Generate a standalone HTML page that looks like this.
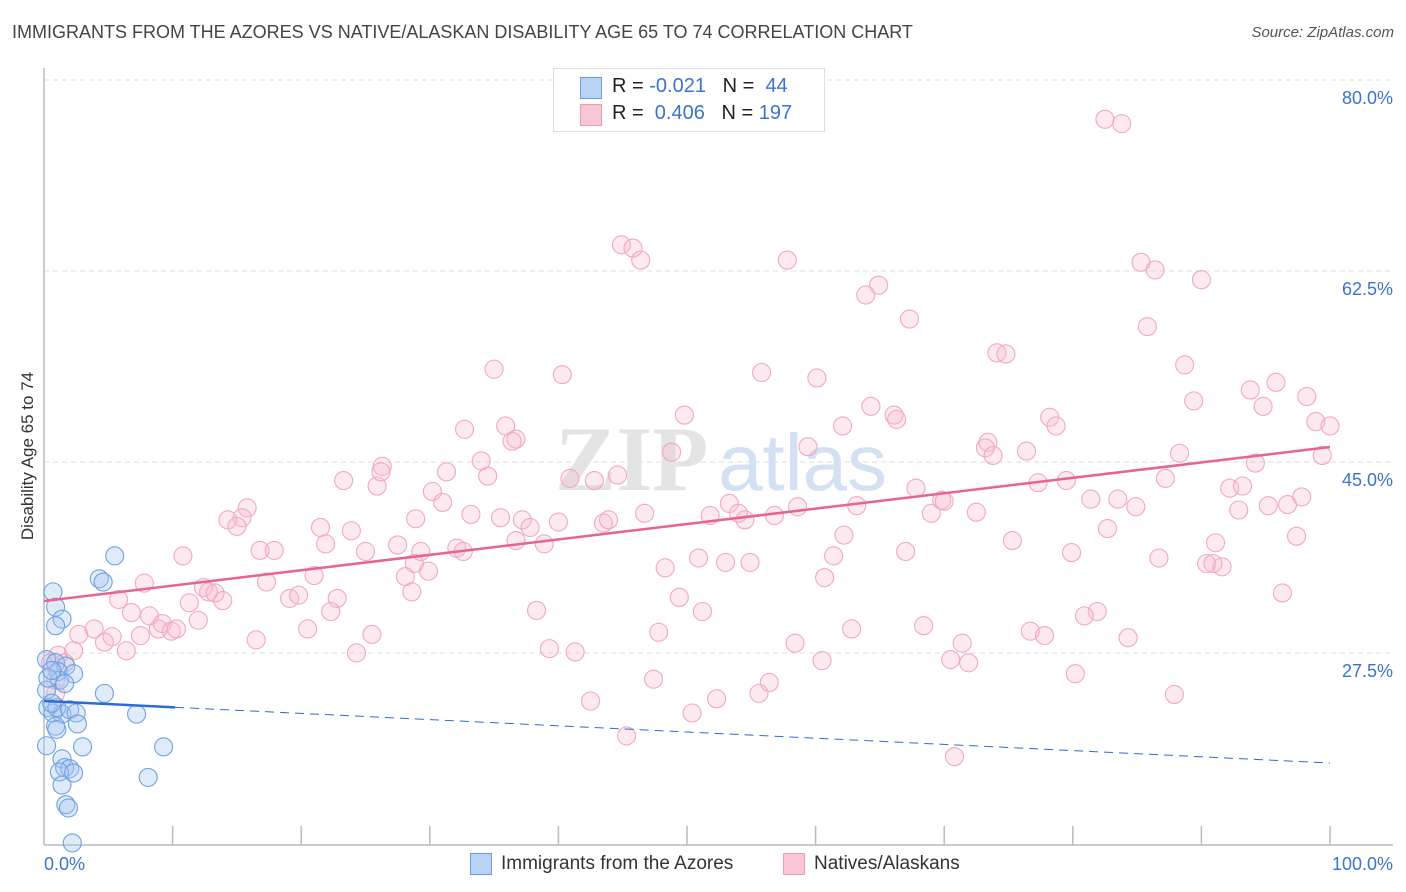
<!DOCTYPE html>
<html><head><meta charset="utf-8">
<style>
body{margin:0;background:#fff;font-family:"Liberation Sans",sans-serif;}
#wrap{position:relative;width:1406px;height:892px;overflow:hidden;}
.t{position:absolute;white-space:nowrap;}
</style></head>
<body>
<div id="wrap">
<div class="t" style="left:12px;top:22px;font-size:18px;color:#444;">IMMIGRANTS FROM THE AZORES VS NATIVE/ALASKAN DISABILITY AGE 65 TO 74 CORRELATION CHART</div>
<div class="t" style="right:12px;top:24px;font-size:15px;color:#555;font-style:italic;">Source: ZipAtlas.com</div>
<svg id="chart" width="1406" height="892" style="position:absolute;left:0;top:0"></svg>
</div>
<script>
const yTicks=[80,62.5,45,27.5];
const yTickLabels=["80.0%","62.5%","45.0%","27.5%"];
const xTickLabels=["0.0%","100.0%"];
const pinkX=[82.5,83.8,44.9,45.8,46.4,57.8,85.3,86.4,90.0,64.9,63.9,67.3,85.8,74.1,74.8,35.0,40.3,55.8,60.1,88.7,93.8,95.8,98.2,89.4,94.8,64.3,49.8,66.1,66.3,78.2,78.7,35.9,32.7,36.7,36.4,62.1,59.4,73.4,73.2,73.8,76.4,98.9,100,88.3,94.2,99.4,48.8,26.3,31.3,34.0,34.5,23.3,25.9,26.2,44.6,42.8,40.9,30.2,31.0,67.8,79.5,77.3,87.2,92.2,93.2,81.4,83.5,84.9,96.7,97.8,92.9,95.2,15.8,15.4,14.3,15.0,21.5,23.9,28.9,33.2,35.5,37.2,37.8,40.0,43.5,43.9,46.7,51.8,53.3,54.0,54.5,56.8,58.6,63.2,69.0,69.8,70.0,72.5,82.7,10.8,16.8,17.9,21.9,25.0,27.5,29.3,32.1,32.6,36.7,38.9,28.8,28.1,29.9,21.0,17.3,50.9,53.0,54.9,62.2,61.4,67.0,75.3,79.9,86.7,90.4,90.9,91.6,91.1,97.4,48.3,60.7,7.8,5.8,6.8,8.2,11.3,12.4,12.8,13.3,13.9,19.1,19.8,22.8,22.3,28.6,38.3,49.4,51.2,81.9,80.9,96.3,2.7,3.9,4.7,5.3,7.5,8.9,9.2,9.9,10.3,12.0,6.4,16.5,20.5,25.5,47.8,62.8,68.4,76.7,77.8,84.3,58.4,71.4,1.1,2.3,1.6,24.3,39.3,41.3,70.5,71.9,60.5,80.2,47.4,56.4,55.6,52.3,42.5,50.4,87.9,45.3,70.8,0.9,0.5,0.9];
const pinkY=[76.4,76.0,64.9,64.6,63.5,63.5,63.3,62.6,61.7,61.2,60.3,58.1,57.4,55.0,54.9,53.5,53.0,53.2,52.7,53.9,51.6,52.3,51.0,50.6,50.1,50.1,49.3,49.3,48.9,49.1,48.3,48.3,48.0,47.1,46.9,48.3,46.4,46.8,46.3,45.6,46.0,48.7,48.3,45.8,44.9,45.6,45.9,44.6,44.1,45.1,43.7,43.3,42.8,44.1,43.8,43.3,43.5,42.3,41.3,42.6,43.3,43.1,43.5,42.6,42.8,41.6,41.6,40.9,41.1,41.8,40.6,41.0,40.8,39.9,39.7,39.1,39.0,38.7,39.8,40.2,39.9,39.7,39.0,39.5,39.4,39.7,40.3,40.1,41.2,40.3,39.7,40.1,40.9,41.0,40.3,41.5,41.4,40.4,38.9,36.4,36.9,36.9,37.5,36.8,37.4,36.8,37.1,36.8,37.8,37.5,35.7,34.5,35.0,34.6,34.0,36.2,35.8,35.8,38.3,36.4,36.8,37.8,36.7,36.2,35.7,35.7,35.4,37.6,38.2,35.3,34.4,33.9,32.4,31.2,30.9,32.1,33.5,33.1,33.0,32.3,32.5,32.8,32.5,31.3,33.1,31.4,32.6,31.3,31.3,30.9,33.0,29.2,29.7,28.5,29.0,29.1,29.7,30.2,29.5,29.7,30.5,27.7,28.7,29.7,29.2,29.4,29.7,30.0,29.5,29.1,28.9,28.4,28.4,27.3,27.7,26.6,27.5,27.9,27.6,26.9,26.6,26.8,25.6,25.1,24.8,23.8,23.3,23.1,22.0,23.7,19.9,18.0,25.0,26.6,23.8];
const blueX=[5.5,0.7,0.9,1.4,0.9,4.3,4.6,0.2,0.9,1.7,1.1,2.3,1.2,1.6,0.2,4.7,0.3,0.7,1.4,1.0,2.0,2.5,2.6,0.9,1.0,7.2,0.2,3.0,9.3,1.4,1.6,2.0,1.2,2.3,8.1,1.4,1.7,1.9,2.2,0.6,0.3,0.6];
const blueY=[36.4,33.1,31.7,30.6,30.0,34.3,34.0,26.9,26.6,26.3,25.8,25.6,25.0,24.7,24.1,23.8,22.5,22.0,21.9,22.5,22.3,22.0,21.0,20.8,20.5,21.9,19.0,18.9,18.9,17.8,17.0,16.9,16.6,16.5,16.1,15.4,13.6,13.3,10.1,22.9,25.2,25.9];
const pinkTrend=[32.26,46.37];
const blueTrend=[23.1,17.42];
const blueSolidEnd=10.2;

const NS="http://www.w3.org/2000/svg";
const svg=document.getElementById('chart');
const X0=44,X1=1330;
const xs=v=>X0+(X1-X0)*v/100;
const ys=v=>80+(80-v)*10.914;
function mk(tag,attrs,parent){const e=document.createElementNS(NS,tag);for(const k in attrs)e.setAttribute(k,attrs[k]);(parent||svg).appendChild(e);return e;}

yTicks.forEach((t,i)=>{
  const g=mk('line',{x1:X0,x2:1393,y1:ys(t),y2:ys(t),stroke:'#ddd','stroke-dasharray':'5,4','stroke-width':1});
  
  
  const tx=mk('text',{x:1393,y:ys(t)+24,'text-anchor':'end','font-size':18,fill:'#3b73d1','font-family':'Liberation Sans, sans-serif'});
  tx.textContent=yTickLabels[i];
  
  
});
const ax=mk('line',{x1:X0,x2:1393,y1:845,y2:845,stroke:'#bbb','stroke-width':1.5});


const ay=mk('line',{x1:X0,x2:X0,y1:68,y2:845,stroke:'#bbb','stroke-width':1.5});


for(let i=1;i<=10;i++){
  const tk=mk('line',{x1:xs(i*10),x2:xs(i*10),y1:826,y2:845,stroke:'#bbb','stroke-width':1.5});
  
  
}
const xl0=mk('text',{x:44,y:870,'font-size':18,fill:'#3b73d1','font-family':'Liberation Sans, sans-serif'});
xl0.textContent=xTickLabels[0];


const xl1=mk('text',{x:1393,y:870,'text-anchor':'end','font-size':18,fill:'#3b73d1','font-family':'Liberation Sans, sans-serif'});
xl1.textContent=xTickLabels[1];


const yt=mk('text',{x:33,y:456,'text-anchor':'middle','font-size':17,fill:'#333',transform:'rotate(-90 33 456)','font-family':'Liberation Sans, sans-serif'});
yt.textContent='Disability Age 65 to 74';


const wm=mk('text',{x:555,y:490,'font-size':92,fill:'#e4e4e4','font-family':'Liberation Serif, serif','font-weight':'bold'});
wm.textContent='ZIP';


const wm2=mk('text',{x:718,y:490,'font-size':80,fill:'#d3e1f3','font-family':'Liberation Sans, sans-serif'});
wm2.textContent='atlas';


pinkX.forEach((x,i)=>{
  const c=mk('circle',{cx:xs(x),cy:ys(pinkY[i]),r:9,fill:'rgba(248,185,205,0.3)',stroke:'#f2a8bf','stroke-width':1.1});
  
  
});
blueX.forEach((x,i)=>{
  const c=mk('circle',{cx:xs(x),cy:ys(blueY[i]),r:9,fill:'rgba(165,198,240,0.35)',stroke:'#6ea0e2','stroke-width':1.1});
  
  
});
const pl=mk('line',{x1:xs(0),y1:ys(pinkTrend[0]),x2:xs(100),y2:ys(pinkTrend[1]),stroke:'#e8648f','stroke-width':2.5});


const bAt=v=>blueTrend[0]+(blueTrend[1]-blueTrend[0])*v/100;
const bl=mk('line',{x1:xs(0),y1:ys(bAt(0)),x2:xs(blueSolidEnd),y2:ys(bAt(blueSolidEnd)),stroke:'#2a6dd6','stroke-width':2.5});


const bd=mk('line',{x1:xs(blueSolidEnd),y1:ys(bAt(blueSolidEnd)),x2:xs(100),y2:ys(bAt(100)),stroke:'#2a6dd6','stroke-width':1,'stroke-dasharray':'9,6'});


</script>
<div class="t" style="left:553px;top:68px;width:270px;height:62px;border:1px solid #ddd;background:#fff;">
  <div class="t" style="left:26px;top:8px;width:20px;height:20px;background:#b9d3f5;border:1px solid #6b9de0;"></div>
  <div class="t" style="left:58px;top:6px;font-size:20px;color:#222;">R = <span style="color:#3b73d1">-0.021</span> &nbsp; N = &nbsp;<span style="color:#3b73d1">44</span></div>
  <div class="t" style="left:26px;top:35px;width:20px;height:20px;background:#f9c6d6;border:1px solid #ef9ab5;"></div>
  <div class="t" style="left:58px;top:33px;font-size:20px;color:#222;">R = &nbsp;<span style="color:#3b73d1">0.406</span> &nbsp; N = <span style="color:#3b73d1">197</span></div>
</div>
<div class="t" style="left:470px;top:853px;width:20px;height:20px;background:#b9d3f5;border:1px solid #6b9de0;"></div>
<div class="t" style="left:501px;top:853px;font-size:19px;color:#333;">Immigrants from the Azores</div>
<div class="t" style="left:783px;top:853px;width:20px;height:20px;background:#f9c6d6;border:1px solid #ef9ab5;"></div>
<div class="t" style="left:814px;top:853px;font-size:19px;color:#333;">Natives/Alaskans</div>
</body></html>
